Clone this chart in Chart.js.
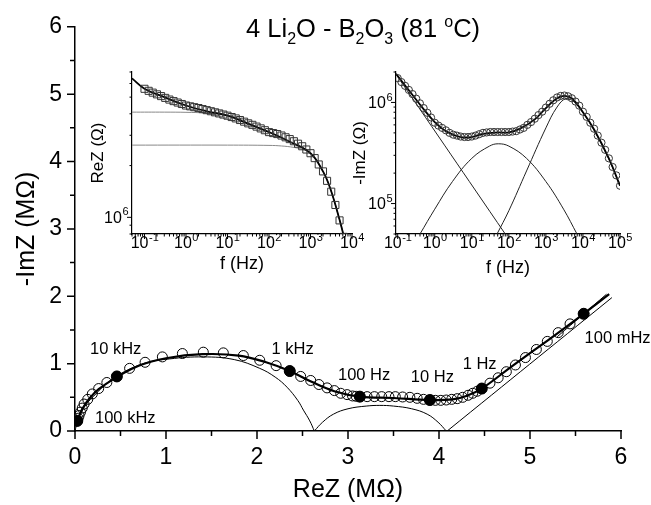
<!DOCTYPE html>
<html>
<head>
<meta charset="utf-8">
<script src="https://cdn.jsdelivr.net/npm/chart.js@4.4.1/dist/chart.umd.min.js"></script>
<style>
  html, body { margin: 0; padding: 0; background: #fff; }
  #wrap { position: relative; width: 651px; height: 505px; font-family: "Liberation Sans", Arial, sans-serif; }
  #wrap canvas { position: absolute; }
  #title { position: absolute; left: 246px; top: 16px; font-size: 25.5px; line-height: 25.5px; white-space: nowrap; color: #000; }
  #title sub { font-size: 16px; position: relative; top: 7px; vertical-align: baseline; line-height: 0; }
  #title sup { font-size: 16px; position: relative; top: -10px; vertical-align: baseline; line-height: 0; }
</style>
</head>
<body>
<div id="wrap">
  <canvas id="main" width="651" height="505" style="left:0;top:0"></canvas>
  <canvas id="ins1" width="290" height="230" style="left:80px;top:60px"></canvas>
  <canvas id="ins2" width="300" height="230" style="left:340px;top:60px"></canvas>
  <div id="title">4 Li<sub>2</sub>O - B<sub>2</sub>O<sub>3</sub> (81 <sup>o</sup>C)</div>
</div>
<script>
const FONT = '"Liberation Sans", Arial, sans-serif'

// measured points, 10 per decade, 100 kHz down to 100 mHz
const freq = [
  100000, 79400, 63100, 50100, 39800, 31600, 25100, 20000, 15800, 12600,
  10000, 7940, 6310, 5010, 3980, 3160, 2510, 2000, 1580, 1260,
  1000, 794, 631, 501, 398, 316, 251, 200, 158, 126,
  100, 79.4, 63.1, 50.1, 39.8, 31.6, 25.1, 20.0, 15.8, 12.6,
  10, 7.94, 6.31, 5.01, 3.98, 3.16, 2.51, 2.0, 1.58, 1.26,
  1, 0.794, 0.631, 0.501, 0.398, 0.316, 0.251, 0.2, 0.158, 0.126,
  0.1
]
// ReZ and -ImZ in MOhm
const reZ = [
  0.025, 0.035, 0.045, 0.06, 0.08, 0.10, 0.14, 0.19, 0.26, 0.35,
  0.46, 0.60, 0.77, 0.96, 1.18, 1.41, 1.63, 1.85, 2.03, 2.21,
  2.36, 2.48, 2.59, 2.68, 2.77, 2.85, 2.92, 2.99, 3.05, 3.09,
  3.13, 3.21, 3.29, 3.37, 3.45, 3.52, 3.60, 3.68, 3.76, 3.83,
  3.90, 3.96, 4.02, 4.08, 4.14, 4.20, 4.26, 4.32, 4.37, 4.42,
  4.47, 4.56, 4.65, 4.74, 4.84, 4.95, 5.07, 5.19, 5.31, 5.44,
  5.59
]
const imZ = [
  0.15, 0.19, 0.23, 0.28, 0.34, 0.40, 0.47, 0.55, 0.63, 0.72,
  0.81, 0.93, 1.02, 1.10, 1.15, 1.17, 1.16, 1.12, 1.05, 0.97,
  0.89, 0.81, 0.75, 0.69, 0.64, 0.60, 0.56, 0.54, 0.52, 0.515,
  0.51, 0.51, 0.51, 0.51, 0.51, 0.51, 0.505, 0.50, 0.485, 0.47,
  0.46, 0.455, 0.455, 0.46, 0.47, 0.48, 0.50, 0.53, 0.56, 0.59,
  0.63, 0.71, 0.79, 0.88, 0.98, 1.09, 1.21, 1.33, 1.46, 1.59,
  1.74
]

// labelled frequencies (filled markers)
const markFreq = [100000, 10000, 1000, 100, 10, 1, 0.1]
const markText = ["100 kHz", "10 kHz", "1 kHz", "100 Hz", "10 Hz", "1 Hz", "100 mHz"]
const markLabelPos = [[0.22, 0.18], [0.165, 1.21], [2.16, 1.21], [2.89, 0.83], [3.69, 0.79], [4.26, 0.99], [5.60, 1.38]]

// Nyquist fit and its components (MOhm)
const fitRe = [0.012, 0.025, 0.05, 0.09, 0.15, 0.26, 0.46, 0.70, 1.0, 1.4, 1.8, 2.1, 2.36, 2.6, 2.85, 3.13, 3.5, 3.9, 4.15, 4.3, 4.47, 4.8, 5.2, 5.59, 5.87]
const fitIm = [0.07, 0.14, 0.24, 0.35, 0.47, 0.62, 0.80, 0.97, 1.08, 1.14, 1.12, 1.02, 0.89, 0.73, 0.59, 0.51, 0.49, 0.46, 0.47, 0.52, 0.63, 0.96, 1.35, 1.74, 2.03]
const arc1Re = [0, 0.03, 0.1, 0.2, 0.42, 0.75, 1.04, 1.41, 1.75, 2.03, 2.2, 2.33, 2.45, 2.51, 2.58, 2.63]
const arc1Im = [0, 0.15, 0.35, 0.51, 0.78, 1.0, 1.07, 1.10, 1.06, 0.93, 0.80, 0.65, 0.45, 0.31, 0.15, 0]
const arc2Re = [2.63, 2.72, 2.84, 3.0, 3.2, 3.35, 3.5, 3.7, 3.87, 3.99, 4.08]
const arc2Im = [0, 0.13, 0.25, 0.33, 0.37, 0.38, 0.37, 0.33, 0.25, 0.13, 0]
const warbRe = [4.09, 5.90]
const warbIm = [0, 1.98]
const tailRe = [5.3, 5.84]
const tailIm = [1.40, 2.03]

// inset 1: ReZ vs f (MOhm)
const ins1FitF = [0.05, 0.1, 0.3, 1, 3, 10, 30, 100, 300, 1000, 2000, 3000, 5000, 8000]
const ins1FitRe = [6.43, 5.6, 5.0, 4.47, 4.15, 3.9, 3.52, 3.13, 2.77, 2.36, 1.85, 1.47, 0.97, 0.62]
const ins1R12F = [0.05, 0.3, 1, 3, 10, 20, 30, 100, 300, 1000, 2000, 3000, 5000, 8000]
const ins1R12Re = [4.09, 4.09, 4.08, 4.04, 3.92, 3.75, 3.55, 3.13, 2.77, 2.36, 1.85, 1.47, 0.97, 0.62]
const ins1R1F = [0.05, 10, 100, 200, 400, 700, 1000, 2000, 3000, 5000, 8000]
const ins1R1Re = [2.63, 2.63, 2.62, 2.60, 2.55, 2.47, 2.36, 1.85, 1.47, 0.97, 0.62]

// inset 2: -ImZ vs f (MOhm)
const ins2FitF = [0.09, 0.2, 0.5, 1, 2, 5, 10, 20, 50, 100, 200, 500, 1000, 2000, 3200, 5000, 10000, 20000, 50000, 100000]
const ins2FitIm = [1.92, 1.32, 0.86, 0.64, 0.52, 0.455, 0.455, 0.49, 0.505, 0.505, 0.55, 0.68, 0.88, 1.10, 1.16, 1.10, 0.80, 0.54, 0.28, 0.15]
const ins2WF = [0.09, 80]
const ins2WIm = [1.9, 0.05]
const ins2Z2F = [0.4, 1, 3, 10, 30, 52, 100, 300, 1000, 3000, 6900]
const ins2Z2Im = [0.05, 0.088, 0.165, 0.28, 0.37, 0.39, 0.37, 0.28, 0.165, 0.088, 0.05]
const ins2Z1F = [48, 100, 300, 1000, 2000, 3500, 6000, 10000, 20000, 50000, 100000]
const ins2Z1Im = [0.05, 0.085, 0.21, 0.56, 0.90, 1.09, 1.0, 0.79, 0.53, 0.275, 0.15]

// tick labels
const mainTicks = [0, 1, 2, 3, 4, 5, 6]
const mainMinor = [0.5, 1.5, 2.5, 3.5, 4.5, 5.5]
const ins1XExp = [-1, 0, 1, 2, 3, 4]
const ins1YExp = [6]
const ins2XExp = [-1, 0, 1, 2, 3, 4, 5]
const ins2YExp = [5, 6]

const pts = (xs, ys, k) => xs.map((x, i) => ({ x: x, y: ys[i] * (k || 1) }))

function logTicks(lo, hi) {
  const major = [], minor = []
  for (let e = Math.floor(Math.log10(lo)); e <= Math.ceil(Math.log10(hi)); e++) {
    for (let m = 1; m < 10; m++) {
      const v = m * Math.pow(10, e)
      if (v < lo * 0.999 || v > hi * 1.001) continue
      if (m === 1) major.push(v); else minor.push(v)
    }
  }
  return { major, minor }
}

const deco = {
  id: "deco",
  afterDraw(chart, args, opts) {
    const ctx = chart.ctx
    ctx.save()
    ctx.strokeStyle = "#000"
    ;(opts.ticks || []).forEach(t => {
      const s = chart.scales[t.scale]
      ctx.lineWidth = t.width
      ctx.beginPath()
      t.values.forEach(v => {
        const p = s.getPixelForValue(v)
        if (s.isHorizontal()) { ctx.moveTo(p, s.top); ctx.lineTo(p, s.top + t.len) }
        else { ctx.moveTo(s.right, p); ctx.lineTo(s.right - t.len, p) }
      })
      ctx.stroke()
    })
    ctx.fillStyle = "#000"
    ;(opts.powers || []).forEach(l => {
      const s = chart.scales[l.scale]
      l.exps.forEach(e => {
        const p = s.getPixelForValue(Math.pow(10, e))
        ctx.font = l.base + "px " + FONT
        const w1 = ctx.measureText("10").width
        ctx.font = l.sup + "px " + FONT
        const w2 = ctx.measureText(String(e)).width
        let x0, yc
        if (s.isHorizontal()) { x0 = p - (w1 + w2) / 2; yc = s.top + l.off }
        else { x0 = s.right - l.off - w1 - w2; yc = p }
        ctx.textAlign = "left"
        ctx.textBaseline = "alphabetic"
        ctx.font = l.base + "px " + FONT
        ctx.fillText("10", x0, yc + l.base * 0.36)
        ctx.font = l.sup + "px " + FONT
        ctx.fillText(String(e), x0 + w1 + 0.5, yc - l.base * 0.12)
      })
    })
    ;(opts.notes || []).forEach(n => {
      ctx.font = n.size + "px " + FONT
      ctx.textAlign = "left"
      ctx.textBaseline = "middle"
      ctx.fillText(n.text, chart.scales.x.getPixelForValue(n.x), chart.scales.y.getPixelForValue(n.y))
    })
    ctx.restore()
  }
}

const line = (data, w, color, order) => ({
  data: data, showLine: true, borderColor: color, borderWidth: w,
  pointRadius: 0, tension: 0.4, fill: false, order: order
})

// ---------- main Nyquist plot ----------
const markIdx = markFreq.map(f => freq.indexOf(f))

new Chart(document.getElementById("main"), {
  type: "scatter",
  data: {
    datasets: [
      { data: markIdx.map(i => ({ x: reZ[i], y: imZ[i] })), pointRadius: 5.5, pointBackgroundColor: "#000", pointBorderColor: "#000", order: 0 },
      { data: pts(reZ, imZ), pointRadius: 5, pointBorderWidth: 1, pointBorderColor: "#000", pointBackgroundColor: "rgba(0,0,0,0)", order: 1 },
      line(pts(fitRe, fitIm), 2.2, "#000", 2),
      line(pts(arc1Re, arc1Im), 1, "#000", 3),
      line(pts(arc2Re, arc2Im), 1, "#000", 3),
      line(pts(warbRe, warbIm), 1, "#000", 3),
      line(pts(tailRe, tailIm), 1, "#000", 3)
    ]
  },
  options: {
    responsive: false,
    animation: false,
    layout: { padding: { left: 0, right: 30, top: 25, bottom: 0 } },
    plugins: {
      legend: { display: false },
      tooltip: { enabled: false },
      deco: {
        ticks: [
          { scale: "x", values: mainTicks, len: 8, width: 1.5 },
          { scale: "x", values: mainMinor, len: 5, width: 1.5 },
          { scale: "y", values: mainTicks, len: 8, width: 1.5 },
          { scale: "y", values: mainMinor, len: 5, width: 1.5 }
        ],
        notes: markText.map((t, i) => ({ text: t, x: markLabelPos[i][0], y: markLabelPos[i][1], size: 16.5 }))
      }
    },
    scales: {
      x: {
        type: "linear", min: 0, max: 6,
        afterFit: s => { s.height = 74 },
        grid: { display: false, drawTicks: false },
        border: { display: true, color: "#000", width: 1.5 },
        ticks: { stepSize: 1, color: "#000", font: { family: FONT, size: 23 }, padding: 13 },
        title: { display: true, text: "ReZ (MΩ)", color: "#000", font: { family: FONT, size: 25 }, padding: { top: 0, bottom: 0 } }
      },
      y: {
        type: "linear", min: 0, max: 6,
        afterFit: s => { s.width = 75 },
        grid: { display: false, drawTicks: false },
        border: { display: true, color: "#000", width: 1.5 },
        ticks: { stepSize: 1, color: "#000", font: { family: FONT, size: 23 }, padding: 13 },
        title: { display: true, text: "-ImZ (MΩ)", color: "#000", font: { family: FONT, size: 25 }, padding: { top: 12, bottom: 0 } }
      }
    }
  },
  plugins: [deco]
})

// ---------- inset charts ----------
function insetScales(xr, yr, yWidth, xTitle, yTitle, xPad, yPad) {
  const axis = (r, extra) => Object.assign({
    type: "logarithmic", min: r[0], max: r[1],
    grid: { display: false, drawTicks: false },
    border: { display: true, color: "#000", width: 1.2 },
    ticks: { display: false }
  }, extra)
  return {
    x: axis(xr, {
      afterFit: s => { s.height = 56 },
      title: { display: true, text: xTitle, color: "#000", font: { family: FONT, size: 18 }, padding: { top: 0, bottom: xPad } }
    }),
    y: axis(yr, {
      afterFit: s => { s.width = yWidth },
      title: { display: true, text: yTitle, color: "#000", font: { family: FONT, size: 17 }, padding: { top: yPad, bottom: 0 } }
    })
  }
}

function insetDeco(xr, yr, xExp, yExp) {
  const xt = logTicks(xr[0], xr[1]), yt = logTicks(yr[0], yr[1])
  return {
    ticks: [
      { scale: "x", values: xt.major, len: 5, width: 1 },
      { scale: "x", values: xt.minor, len: 2.5, width: 1 },
      { scale: "y", values: yt.major, len: 5, width: 1 },
      { scale: "y", values: yt.minor, len: 2.5, width: 1 }
    ],
    powers: [
      { scale: "x", exps: xExp, base: 16, sup: 11, off: 8.5 },
      { scale: "y", exps: yExp, base: 16, sup: 11, off: 4 }
    ]
  }
}

const ins1X = [0.05, 10000], ins1Y = [8e5, 7e6]
new Chart(document.getElementById("ins1"), {
  type: "scatter",
  data: {
    datasets: [
      { data: pts(freq, reZ, 1e6), pointStyle: "rect", pointRadius: 5, pointBorderWidth: 1, pointBorderColor: "#333", pointBackgroundColor: "rgba(0,0,0,0)", order: 0 },
      line(pts(ins1FitF, ins1FitRe, 1e6), 1.8, "#000", 1),
      line(pts(ins1R12F, ins1R12Re, 1e6), 1, "#888", 2),
      line(pts(ins1R1F, ins1R1Re, 1e6), 1, "#888", 2)
    ]
  },
  options: {
    responsive: false,
    animation: false,
    layout: { padding: { left: 0, right: 18, top: 12, bottom: 0 } },
    plugins: { legend: { display: false }, tooltip: { enabled: false }, deco: insetDeco(ins1X, ins1Y, ins1XExp, ins1YExp) },
    scales: insetScales(ins1X, ins1Y, 52, "f (Hz)", "ReZ (Ω)", 15, 8)
  },
  plugins: [deco]
})

const ins2X = [0.09, 100000], ins2Y = [5e4, 2e6]
new Chart(document.getElementById("ins2"), {
  type: "scatter",
  data: {
    datasets: [
      { data: pts(freq, imZ, 1e6), pointRadius: 3.6, pointBorderWidth: 1, pointBorderColor: "#333", pointBackgroundColor: "rgba(0,0,0,0)", order: 0 },
      line(pts(ins2FitF, ins2FitIm, 1e6), 1.8, "#000", 1),
      line(pts(ins2WF, ins2WIm, 1e6), 1, "#222", 2),
      line(pts(ins2Z2F, ins2Z2Im, 1e6), 1, "#222", 2),
      line(pts(ins2Z1F, ins2Z1Im, 1e6), 1, "#222", 2)
    ]
  },
  options: {
    responsive: false,
    animation: false,
    layout: { padding: { left: 0, right: 20, top: 12, bottom: 0 } },
    plugins: { legend: { display: false }, tooltip: { enabled: false }, deco: insetDeco(ins2X, ins2Y, ins2XExp, ins2YExp) },
    scales: insetScales(ins2X, ins2Y, 56, "f (Hz)", "-ImZ (Ω)", 11, 10)
  },
  plugins: [deco]
})
</script>
</body>
</html>
